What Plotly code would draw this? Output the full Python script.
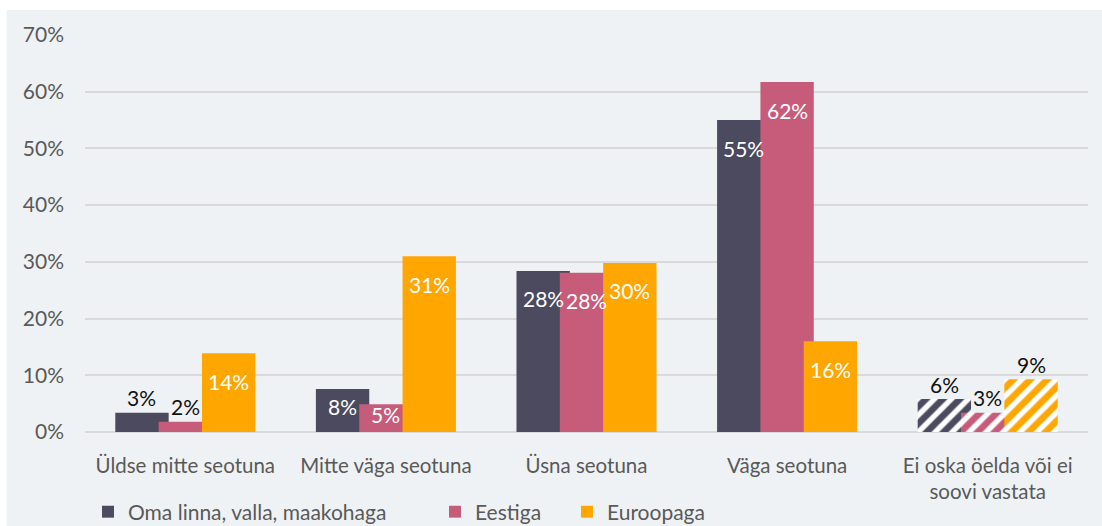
import plotly.graph_objects as go

# categories and values (share of respondents)
categories = ["Üldse mitte seotuna", "Mitte väga seotuna", "Üsna seotuna",
              "Väga seotuna", "Ei oska öelda või ei<br>soovi vastata"]
series_names = ["Oma linna, valla, maakohaga", "Eestiga", "Euroopaga"]
local_vals = [3.4, 7.6, 28.4, 55.0, 5.8]
estonia_vals = [1.8, 4.9, 28.1, 61.7, 3.4]
europe_vals = [13.9, 31.0, 29.8, 16.0, 9.3]

colors = ["#4b4a5e", "#c75c7a", "#ffa600"]
font_family = "Lato, 'Open Sans', sans-serif"

values = [local_vals, estonia_vals, europe_vals]
# where each data label sits: inside the bar top or above it
label_pos = [
    ["out", "in", "in", "in", "out"],
    ["out", "in", "in", "in", "out"],
    ["in", "in", "in", "in", "out"],
]
bar_w = 0.266
offsets = [-0.349, -0.133, 0.083]
legend_ids = ["legend", "legend2", "legend3"]
legend_x = [88, 435, 567]
plot_h = 397  # px height of the plot area (0..70%)

fig = go.Figure()
for i in range(3):
    fig.add_trace(go.Bar(
        name=series_names[i],
        x=list(range(len(categories))),
        y=values[i],
        width=bar_w,
        offset=offsets[i],
        marker=dict(
            color=colors[i],
            line=dict(width=0),
            pattern=dict(shape=["", "", "", "", "/"], fgcolor=colors[i],
                         bgcolor="white", size=12, solidity=0.55,
                         fgopacity=1, fillmode="replace"),
        ),
        legend=legend_ids[i],
        hoverinfo="skip",
    ))

# data labels drawn on top of all bars
for i in range(3):
    for j, v in enumerate(values[i]):
        h = v * plot_h / 70
        if label_pos[i][j] == "in":
            shift = -min(28, h / 2 - 4)
            col = "white"
        else:
            shift = 15
            col = "#111111"
        fig.add_annotation(x=j + offsets[i] + bar_w / 2, y=v, text=f"{round(v)}%",
                           showarrow=False, yshift=shift, yanchor="middle",
                           font=dict(size=21, color=col, family=font_family))

# light grey chart area background
fig.add_shape(type="rect", xref="paper", yref="paper",
              x0=-0.078, x1=1.02, y0=-0.3, y1=1.063,
              fillcolor="#eff2f4", line=dict(width=0), layer="below")

leg = dict(orientation="h", yref="container", yanchor="middle", y=0.0266,
           xref="container", xanchor="left",
           font=dict(size=21, color="#595959", family=font_family),
           bgcolor="rgba(0,0,0,0)", itemclick=False)
fig.update_layout(
    barmode="overlay",
    width=1102, height=526,
    margin=dict(l=85, r=14, t=35, b=94),
    paper_bgcolor="white",
    plot_bgcolor="rgba(0,0,0,0)",
    showlegend=True,
    font=dict(family=font_family, size=20, color="#595959"),
    legend=dict(leg, x=legend_x[0] / 1102),
    legend2=dict(leg, x=legend_x[1] / 1102),
    legend3=dict(leg, x=legend_x[2] / 1102),
    xaxis=dict(showgrid=False, showline=False, ticks="", ticklabelstandoff=19,
               tickmode="array", tickvals=list(range(len(categories))),
               ticktext=categories, range=[-0.5, len(categories) - 0.5],
               automargin=False, tickfont=dict(size=20.5, color="#595959")),
    yaxis=dict(range=[0, 70], dtick=10, ticksuffix="%", showgrid=True,
               gridcolor="#d9d9d9", gridwidth=1.5, zeroline=True,
               zerolinecolor="#d9d9d9", zerolinewidth=1.5, automargin=False,
               ticklabelstandoff=20, tickfont=dict(size=21, color="#595959")),
)

fig.write_html("out.html", config={"displayModeBar": False},
               post_script="document.body.style.margin='0px';")
